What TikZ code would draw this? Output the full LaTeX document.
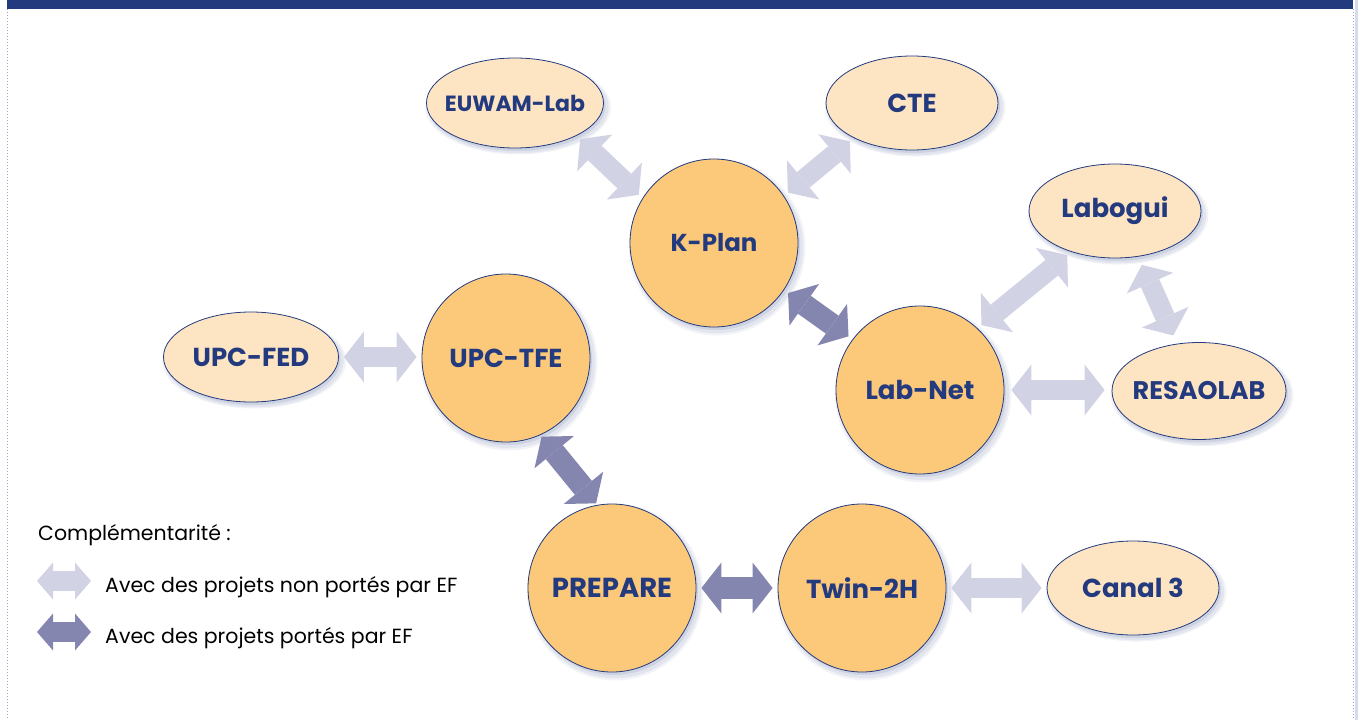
\documentclass[tikz,border=0pt]{standalone}
\usepackage{fontspec}
\setmainfont{Poppins}
\usetikzlibrary{arrows.meta,shapes.geometric,shadows}

\definecolor{efblue}{HTML}{233A7E}
\definecolor{projfill}{HTML}{FCC97B}
\definecolor{partfill}{HTML}{FDE5C3}
\definecolor{liteflow}{HTML}{D2D2E5}
\definecolor{darkflow}{HTML}{8586AF}
\definecolor{edgeline}{HTML}{9CA6CC}

\tikzset{
  flowtip/.tip={Triangle[width=51pt,length=20pt,line width=0pt]},
  legtip/.tip={Triangle[width=37pt,length=16pt,line width=0pt]},
  softshadow/.style={
    drop shadow={shadow xshift=3pt, shadow yshift=-4pt, shadow scale=1.05, fill=efblue, opacity=0.06},
    drop shadow={shadow xshift=3pt, shadow yshift=-4pt, shadow scale=1.025, fill=efblue, opacity=0.08},
    drop shadow={shadow xshift=2pt, shadow yshift=-3pt, fill=efblue, opacity=0.10}},
  proj/.style={circle, draw=efblue, line width=0.8pt, fill=projfill,
    minimum size=168pt, inner sep=0pt, text=efblue,
    font=\fontsize{26}{30}\selectfont\bfseries, softshadow},
  part/.style={ellipse, draw=efblue, line width=0.8pt, fill=partfill,
    minimum width=172pt, minimum height=94pt, inner xsep=-12pt, inner ysep=0pt, text=efblue,
    font=\fontsize{26}{30}\selectfont\bfseries, softshadow},
  lite/.style={draw=liteflow, line width=20pt, flowtip-flowtip,
    shorten <=5pt, shorten >=5pt},
  dark/.style={draw=darkflow, line width=22pt, flowtip-flowtip,
    shorten <=5pt, shorten >=5pt},
  legtext/.style={inner sep=0pt, font=\fontsize{20.5}{24}\selectfont}
}

\begin{document}
\begin{tikzpicture}[x=1pt, y=-1pt]
\useasboundingbox (0,0) rectangle (1358,720);

% frame
\fill[efblue] (7,0) rectangle (1353,9);
\fill[edgeline!40] (1355,0) rectangle (1358,720);
\draw[edgeline, dotted, line width=1pt] (7,9) -- (7,720);
\draw[edgeline, dotted, line width=1pt] (1353,9) -- (1353,720);

% projects
\node[proj, font=\fontsize{24.5}{30}\selectfont\bfseries] (kplan) at (714,243) {K-Plan};
\node[proj] (tfe) at (506,358) {UPC-TFE};
\node[proj] (labnet) at (920,390) {Lab-Net};
\node[proj, font=\fontsize{27.5}{30}\selectfont\bfseries] (prepare) at (612,588) {PREPARE};
\node[proj] (twin) at (862,588) {Twin-2H};

% partners
\node[part, minimum width=177pt, minimum height=90pt, font=\fontsize{22}{26}\selectfont\bfseries] (euwam) at (515,103) {EUWAM-Lab};
\node[part] (cte) at (912,103) {CTE};
\node[part] (labogui) at (1115,211) {Labogui};
\node[part, minimum width=175pt, minimum height=90pt] (fed) at (251,357) {UPC-FED};
\node[part, minimum width=174pt, minimum height=97pt, font=\fontsize{25.5}{28}\selectfont\bfseries] (resaolab) at (1199,391) {RESAOLAB};
\node[part] (canal) at (1133,588) {Canal 3};

% links
\draw[lite] (euwam.-28) -- (kplan.148);
\draw[lite] (cte.211) -- (kplan.34);
\draw[dark] (kplan.-34) -- (labnet.143);
\draw[lite] (labnet.47) -- (labogui.223);
\draw[lite, shorten <=9pt, shorten >=9pt] (labogui.-63) -- (resaolab.115);
\draw[lite, shorten <=7pt, shorten >=7pt] (labnet.east) -- (labnet.east -| resaolab.west);
\draw[lite] (fed.east) -- (fed.east -| tfe.west);
\draw[dark, shorten <=2pt, shorten >=2pt] (tfe.-66) -- (prepare.100);
\draw[dark] (prepare.east) -- (twin.west);
\draw[lite] (twin.east) -- (canal.west);

% legend
\node[legtext, anchor=base west] (legtitle) at (38,540) {Complémentarité :};
\coordinate (lita) at (37,581);
\coordinate (litb) at (91,581);
\coordinate (drka) at (37,632);
\coordinate (drkb) at (91,632);
\draw[liteflow, line width=20pt, legtip-legtip] (lita) -- (litb);
\draw[darkflow, line width=20pt, legtip-legtip] (drka) -- (drkb);
\node[legtext, anchor=base west] (legnon) at (105,592) {Avec des projets non portés par EF};
\node[legtext, anchor=base west] (legef) at (105,643) {Avec des projets portés par EF};
\end{tikzpicture}
\end{document}
